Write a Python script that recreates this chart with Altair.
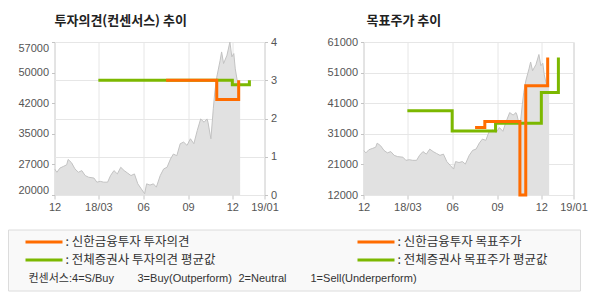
import altair as alt
import pandas as pd

# ---------------- data ----------------
price_dates = [
    "2017-12-01", "2017-12-06", "2017-12-12", "2017-12-20", "2017-12-26", "2017-12-29",
    "2018-01-05", "2018-01-12", "2018-01-19", "2018-01-26", "2018-02-02", "2018-02-09",
    "2018-02-20", "2018-02-26", "2018-03-05", "2018-03-12", "2018-03-20", "2018-03-26",
    "2018-04-02", "2018-04-09", "2018-04-16", "2018-04-23", "2018-04-30", "2018-05-07",
    "2018-05-14", "2018-05-21", "2018-05-28", "2018-06-04", "2018-06-08", "2018-06-15",
    "2018-06-22", "2018-06-28", "2018-07-06", "2018-07-13", "2018-07-20", "2018-07-27",
    "2018-08-02", "2018-08-09", "2018-08-16", "2018-08-23", "2018-08-30", "2018-09-06",
    "2018-09-13", "2018-09-20", "2018-09-27", "2018-10-04", "2018-10-10", "2018-10-12",
    "2018-10-18", "2018-10-23", "2018-10-26", "2018-10-30", "2018-11-06", "2018-11-09",
    "2018-11-13", "2018-11-20", "2018-11-26", "2018-11-30", "2018-12-04", "2018-12-07",
    "2018-12-11", "2018-12-17",
]
price_values = [
    26300, 25500, 26500, 26950, 27300, 28600,
    27800, 26300, 25500, 25900, 24700, 24300,
    24100, 23100, 23300, 23100, 23100, 24700,
    25900, 25100, 26700, 25900, 25300, 24700,
    25100, 22700, 21500, 20300, 22700, 22400,
    22700, 21900, 24700, 26300, 26700, 28700,
    29900, 29500, 32400, 32800, 32000, 33600,
    32400, 35600, 38400, 37600, 38400, 37600,
    33600, 41000, 44900, 48500, 52600, 54600,
    51800, 53800, 57000, 53400, 54200, 50500,
    47700, 47300,
]

opinion_own_dates = ["2018-07-18", "2018-10-30", "2018-12-14"]
opinion_own_values = [3, 2.5, 3]
opinion_avg_dates = ["2018-03-01", "2018-12-01", "2019-01-05"]
opinion_avg_values = [3, 2.88, 3]

target_own_dates = ["2018-07-18", "2018-08-07", "2018-10-18", "2018-10-30", "2018-12-14"]
target_own_values = [33600, 35500, 12000, 47000, 56000]
target_avg_dates = ["2018-03-01", "2018-06-01", "2018-08-29", "2018-12-01", "2019-01-05"]
target_avg_values = [39000, 32500, 35000, 44800, 56000]

x_tick_dates = ["2017-12-01", "2018-03-01", "2018-06-01", "2018-09-01", "2018-12-01", "2019-02-05"]
x_tick_labels = ["12", "18/03", "06", "09", "12", "19/01"]

left_price_ticks = [20000, 27400, 34800, 42200, 49600, 57000]
left_price_labels = ["20000", "27000", "35000", "42000", "50000", "57000"]
opinion_ticks = [0, 1, 2, 3, 4]
right_price_ticks = [12000, 21800, 31600, 41400, 51200, 61000]
right_price_labels = ["12000", "21000", "31000", "41000", "51000", "61000"]

title_left = "투자의견(컨센서스) 추이"
title_right = "목표주가 추이"
legend_labels = [": 신한금융투자 투자의견", ": 신한금융투자 목표주가",
                 ": 전체증권사 투자의견 평균값", ": 전체증권사 목표주가 평균값"]
footer_texts = ["컨센서스:4=S/Buy", "3=Buy(Outperform)", "2=Neutral", "1=Sell(Underperform)"]

# ---------------- helpers ----------------
ORIGIN = pd.Timestamp("2017-12-01")


def to_days(ds):
    return [(pd.Timestamp(d) - ORIGIN).days for d in ds]


def lab_expr(vals, labels):
    v = ",".join(str(x) for x in vals)
    l = ",".join("'" + s + "'" for s in labels)
    return f"[{l}][indexof([{v}], datum.value)]"


ORANGE = "#ff6c00"
GREEN = "#7cb800"
KFONT = "Noto Sans CJK KR"
NFONT = "Liberation Sans"
MIXFONT = "Liberation Sans, Noto Sans CJK KR"
W, H = 210, 153

x_ticks = to_days(x_tick_dates)
price_df = pd.DataFrame({"day": to_days(price_dates), "price": price_values})
op_own_df = pd.DataFrame({"day": to_days(opinion_own_dates), "v": opinion_own_values})
op_avg_df = pd.DataFrame({"day": to_days(opinion_avg_dates), "v": opinion_avg_values})
tg_own_df = pd.DataFrame({"day": to_days(target_own_dates), "v": target_own_values})
tg_avg_df = pd.DataFrame({"day": to_days(target_avg_dates), "v": target_avg_values})
dummy = pd.DataFrame({"k": [0]})

x_enc = alt.X(
    "day:Q",
    scale=alt.Scale(domain=[0, x_ticks[-1]], nice=False, zero=False),
    axis=alt.Axis(values=x_ticks, labelExpr=lab_expr(x_ticks, x_tick_labels), title=None,
                  grid=True, gridColor="#e6e6e6", domain=False, tickSize=4,
                  tickColor="#c4c4c4", labelPadding=2, labelFontSize=11,
                  labelColor="#555555", labelFont=NFONT, labelFlush=False,
                  labelOverlap=False),
)

# ---------------- left chart ----------------
lp_scale = alt.Scale(domain=[20000, 57000], nice=False, zero=False)
op_scale = alt.Scale(domain=[0, 4], nice=False, zero=False)

l_area = alt.Chart(price_df).mark_area(color="#e1e1e1", clip=True).encode(
    x=x_enc,
    y=alt.Y("price:Q", scale=lp_scale,
            axis=alt.Axis(orient="left", values=left_price_ticks,
                          labelExpr=lab_expr(left_price_ticks, left_price_labels),
                          title=None, grid=False, domain=False, tickSize=3,
                          tickColor="#c4c4c4", labelPadding=3, labelFontSize=11,
                          labelColor="#555555", labelFont=NFONT, labelFlush=True)),
)
l_line = alt.Chart(price_df).mark_line(color="#c2c2c2", strokeWidth=1, clip=True).encode(
    x=x_enc, y=alt.Y("price:Q", scale=lp_scale, axis=None))
l_avg = alt.Chart(op_avg_df).mark_line(color=GREEN, strokeWidth=3, interpolate="step-after").encode(
    x=x_enc, y=alt.Y("v:Q", scale=op_scale, axis=None))
l_own = alt.Chart(op_own_df).mark_line(color=ORANGE, strokeWidth=3, interpolate="step-after").encode(
    x=x_enc,
    y=alt.Y("v:Q", scale=op_scale,
            axis=alt.Axis(orient="right", values=opinion_ticks, format="d", title=None,
                          grid=True, gridColor="#e6e6e6", domain=False, tickSize=3,
                          tickColor="#c4c4c4", labelPadding=3, labelFontSize=11,
                          labelColor="#555555", labelFont=NFONT)),
)

# legend box (pixel positions relative to the left plot area)
legend_layers = [
    alt.Chart(dummy).mark_rect(fill="#f9f9f9", stroke="#dcdcdc", strokeWidth=1).encode(
        x=alt.value(-46), x2=alt.value(526), y=alt.value(188), y2=alt.value(249))
]
item_pos = [(-29, 8, 11, 200, ORANGE), (303, 340, 343, 200, ORANGE),
            (-29, 8, 11, 218, GREEN), (303, 340, 343, 218, GREEN)]
for (x0, x1, tx, yy, col), lab in zip(item_pos, legend_labels):
    legend_layers.append(
        alt.Chart(dummy).mark_rule(color=col, strokeWidth=3).encode(
            x=alt.value(x0), x2=alt.value(x1), y=alt.value(yy)))
    legend_layers.append(
        alt.Chart(dummy).mark_text(text=lab, align="left", baseline="middle", font=KFONT,
                                   fontSize=12.5, color="#333333").encode(
            x=alt.value(tx), y=alt.value(yy)))
for txt, fx in zip(footer_texts, [-26, 83, 184, 256]):
    legend_layers.append(
        alt.Chart(dummy).mark_text(text=txt, align="left", baseline="middle", font=MIXFONT,
                                   fontSize=11, color="#333333").encode(
            x=alt.value(fx), y=alt.value(237)))

left = alt.layer(l_area, l_line, l_avg, l_own, *legend_layers).resolve_scale(
    y="independent").properties(
    width=W, height=H,
    title=alt.TitleParams(title_left, anchor="start", frame="group", font=KFONT, fontSize=13,
                          fontWeight="bold", color="#222222", offset=8))

# ---------------- right chart ----------------
rp_scale = alt.Scale(domain=[12000, 61000], nice=False, zero=False)
ry_axis = alt.Axis(orient="left", values=right_price_ticks,
                   labelExpr=lab_expr(right_price_ticks, right_price_labels),
                   title=None, grid=True, gridColor="#e6e6e6", domain=False, tickSize=3,
                   tickColor="#c4c4c4", labelPadding=3, labelFontSize=11,
                   labelColor="#555555", labelFont=NFONT)


def ry_enc(f):
    return alt.Y(f, scale=rp_scale, axis=ry_axis)


r_area = alt.Chart(price_df).mark_area(color="#e1e1e1", clip=True).encode(x=x_enc, y=ry_enc("price:Q"))
r_line = alt.Chart(price_df).mark_line(color="#c2c2c2", strokeWidth=1, clip=True).encode(
    x=x_enc, y=ry_enc("price:Q"))
r_avg = alt.Chart(tg_avg_df).mark_line(color=GREEN, strokeWidth=3, interpolate="step-after").encode(
    x=x_enc, y=ry_enc("v:Q"))
r_own = alt.Chart(tg_own_df).mark_line(color=ORANGE, strokeWidth=3, interpolate="step-after").encode(
    x=x_enc, y=ry_enc("v:Q"))

right = alt.layer(r_area, r_line, r_avg, r_own).properties(
    width=W, height=H,
    title=alt.TitleParams(title_right, anchor="start", frame="group", font=KFONT, fontSize=13,
                          fontWeight="bold", color="#222222", offset=8, dx=3))

chart = alt.hconcat(left, right, spacing=99, bounds="flush").properties(
    padding={"left": 7.5, "top": 14, "right": 0, "bottom": 0}
).configure_view(stroke="#c4c4c4", strokeWidth=1)

chart.save("out.html", embed_options={"renderer": "svg", "actions": False})
